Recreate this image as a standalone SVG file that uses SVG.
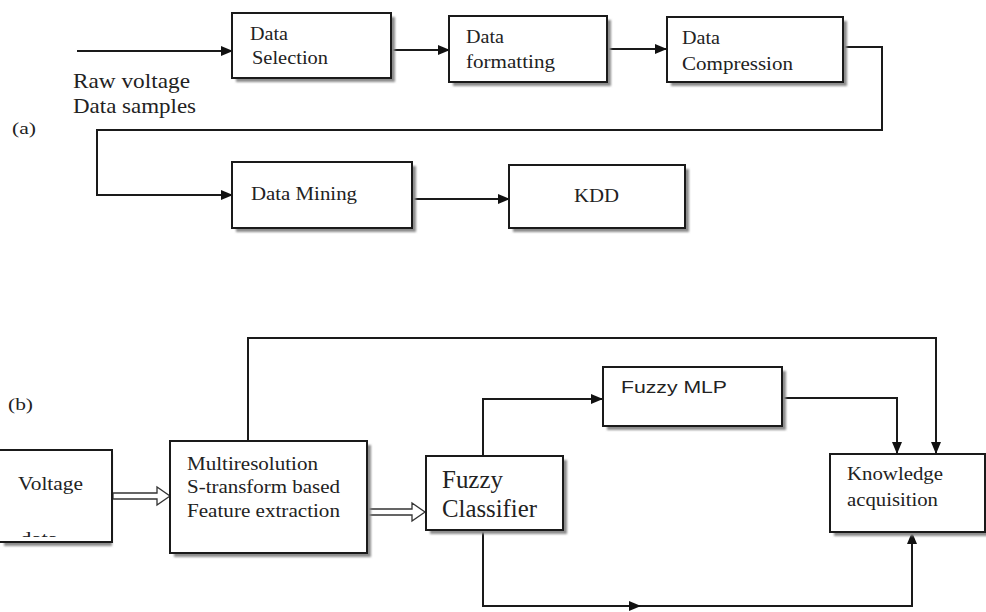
<svg xmlns="http://www.w3.org/2000/svg" width="986" height="612" viewBox="0 0 986 612">
<style>
.box{fill:#fff;stroke:#1a1a1a;stroke-width:2}
.sh{fill:#8c8c8c;filter:url(#blur)}
.t{font-family:"Liberation Serif","Times New Roman",serif;fill:#222}
.s{font-family:"Liberation Sans",Arial,sans-serif;fill:#222}
.ln{fill:none;stroke:#1a1a1a;stroke-width:2}
.hol{fill:#fff;stroke:#333;stroke-width:1.3}
</style>
<defs>
<filter id="blur" x="-10%" y="-10%" width="120%" height="120%"><feGaussianBlur stdDeviation="0.8"/></filter>
<marker id="ah" markerWidth="12" markerHeight="10" refX="11" refY="5" orient="auto" markerUnits="userSpaceOnUse"><path d="M0,0 L12,5 L0,10 Z" fill="#111"/></marker>
<clipPath id="vclip"><rect x="0" y="450" width="112" height="87"/></clipPath>
</defs>

<text class="t" x="12" y="134" font-size="16" textLength="24" lengthAdjust="spacingAndGlyphs">(a)</text>
<text class="t" x="73" y="88" font-size="22" textLength="117" lengthAdjust="spacingAndGlyphs">Raw voltage</text>
<text class="t" x="73" y="113" font-size="22" textLength="123" lengthAdjust="spacingAndGlyphs">Data samples</text>
<text class="t" x="8" y="410" font-size="16" textLength="25" lengthAdjust="spacingAndGlyphs">(b)</text>

<g id="connectors">
<path class="ln" d="M77,51 H232" marker-end="url(#ah)"/>
<path class="ln" d="M391,50 H449" marker-end="url(#ah)"/>
<path class="ln" d="M607,49 H666" marker-end="url(#ah)"/>
<path class="ln" d="M843,47 H882 V130 H97 V195 H232" marker-end="url(#ah)"/>
<path class="ln" d="M412,199 H509" marker-end="url(#ah)"/>
<path class="ln" d="M248,441 V338 H936 V453" marker-end="url(#ah)"/>
<path class="ln" d="M777,398 H897 V453" marker-end="url(#ah)"/>
<path class="ln" d="M483,456 V399 H602" marker-end="url(#ah)"/>
<path class="ln" d="M483,530 V606 H912 V533" marker-end="url(#ah)"/>
<path class="ln" d="M600,606 H640" marker-end="url(#ah)"/>
<path class="hol" d="M113,493 H157 V487 L170,496 L157,505 V499 H113 Z"/>
<path class="hol" d="M368,509 H412 V503 L425,512 L412,521 V515 H368 Z"/>
</g>

<g id="data-selection">
<rect class="sh" x="236" y="17" width="159" height="65"/>
<rect class="box" x="232" y="13" width="159" height="65"/>
<text class="t" x="250" y="40" font-size="18" textLength="38" lengthAdjust="spacingAndGlyphs">Data</text>
<text class="t" x="252" y="64" font-size="18" textLength="76" lengthAdjust="spacingAndGlyphs">Selection</text>
</g>

<g id="data-formatting">
<rect class="sh" x="453" y="20" width="158" height="66"/>
<rect class="box" x="449" y="16" width="158" height="66"/>
<text class="t" x="466" y="43" font-size="18" textLength="38" lengthAdjust="spacingAndGlyphs">Data</text>
<text class="t" x="466" y="68" font-size="18" textLength="89" lengthAdjust="spacingAndGlyphs">formatting</text>
</g>

<g id="data-compression">
<rect class="sh" x="671" y="21" width="176" height="65"/>
<rect class="box" x="667" y="17" width="176" height="65"/>
<text class="t" x="682" y="44" font-size="18" textLength="38" lengthAdjust="spacingAndGlyphs">Data</text>
<text class="t" x="682" y="70" font-size="18" textLength="111" lengthAdjust="spacingAndGlyphs">Compression</text>
</g>

<g id="data-mining">
<rect class="sh" x="236" y="166" width="180" height="66"/>
<rect class="box" x="232" y="162" width="180" height="66"/>
<text class="t" x="251" y="200" font-size="18" textLength="106" lengthAdjust="spacingAndGlyphs">Data Mining</text>
</g>

<g id="kdd">
<rect class="sh" x="513" y="169" width="176" height="63"/>
<rect class="box" x="509" y="165" width="176" height="63"/>
<text class="t" x="574" y="202" font-size="18" textLength="45" lengthAdjust="spacingAndGlyphs">KDD</text>
</g>

<g id="voltage-data">
<rect class="sh" x="4" y="454" width="108" height="92"/>
<rect class="box" x="-2" y="450" width="114" height="92"/>
<text class="t" x="18" y="490" font-size="18" textLength="65" lengthAdjust="spacingAndGlyphs">Voltage</text>
<text class="t" x="20" y="545" font-size="18" textLength="38" lengthAdjust="spacingAndGlyphs" clip-path="url(#vclip)">data</text>
</g>

<g id="feature-extraction">
<rect class="sh" x="174" y="445" width="197" height="112"/>
<rect class="box" x="170" y="441" width="197" height="112"/>
<text class="t" x="187" y="470" font-size="18" textLength="131" lengthAdjust="spacingAndGlyphs">Multiresolution</text>
<text class="t" x="187" y="493" font-size="18" textLength="153" lengthAdjust="spacingAndGlyphs">S-transform based</text>
<text class="t" x="187" y="517" font-size="18" textLength="153" lengthAdjust="spacingAndGlyphs">Feature extraction</text>
</g>

<g id="fuzzy-classifier">
<rect class="sh" x="430" y="460" width="137" height="74"/>
<rect class="box" x="426" y="456" width="137" height="74"/>
<text class="t" x="442" y="488" font-size="25" textLength="61" lengthAdjust="spacingAndGlyphs">Fuzzy</text>
<text class="t" x="442" y="517" font-size="25" textLength="95" lengthAdjust="spacingAndGlyphs">Classifier</text>
</g>

<g id="fuzzy-mlp">
<rect class="sh" x="607" y="371" width="179" height="59"/>
<rect class="box" x="603" y="367" width="179" height="59"/>
<text class="s" x="621" y="393" font-size="17" textLength="106" lengthAdjust="spacingAndGlyphs">Fuzzy MLP</text>
</g>

<g id="knowledge-acquisition">
<rect class="sh" x="834" y="458" width="156" height="78"/>
<rect class="box" x="830" y="454" width="155" height="78"/>
<text class="t" x="847" y="480" font-size="18" textLength="96" lengthAdjust="spacingAndGlyphs">Knowledge</text>
<text class="t" x="847" y="506" font-size="18" textLength="91" lengthAdjust="spacingAndGlyphs">acquisition</text>
</g>
</svg>
